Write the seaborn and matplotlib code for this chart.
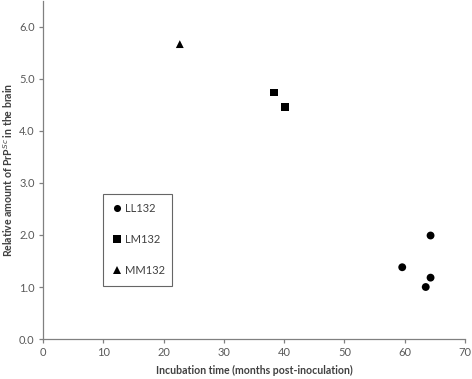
import numpy as np
import pandas as pd
import matplotlib
matplotlib.use('Agg')
import matplotlib.pyplot as plt
import seaborn as sns

# values
groups = ['LL132', 'LL132', 'LL132', 'LL132', 'LM132', 'LM132', 'MM132']
incubation = [64.3, 59.6, 64.3, 63.5, 38.3, 40.2, 22.7]
prpsc = [1.99, 1.38, 1.18, 1.00, 4.74, 4.46, 5.67]

df = pd.DataFrame({'group': groups, 'time': incubation, 'prp': prpsc})

sns.set_style('white')
plt.rcParams['font.family'] = ['Lato', 'DejaVu Sans']

fig = plt.figure(figsize=(4.72, 3.79), dpi=100)
ax = fig.add_axes([0.091, 0.1055, 0.894, 0.892])

sns.scatterplot(data=df, x='time', y='prp', style='group',
                markers={'LL132': 'o', 'LM132': 's', 'MM132': '^'},
                color='black', s=32, edgecolor='black', linewidth=0, ax=ax)

ax.set_xlim(0, 70)
ax.set_ylim(0, 6.5)
ax.set_xticks(np.arange(0, 71, 10))
ax.set_yticks(np.arange(0, 6.1, 1.0))
ax.set_yticklabels(['%.1f' % v for v in np.arange(0, 6.1, 1.0)])

grey = '#808080'
for s in ['top', 'right']:
    ax.spines[s].set_visible(False)
for s in ['left', 'bottom']:
    ax.spines[s].set_color(grey)
    ax.spines[s].set_linewidth(0.9)
ax.tick_params(axis='both', which='major', direction='out', length=3,
               width=0.9, color=grey, labelcolor='#595959', labelsize=8,
               left=True, bottom=True, pad=3)

ax.set_xlabel('Incubation time (months post-inoculation)', fontsize=7.6,
              fontweight='bold', color='#404040', labelpad=5)
ax.set_ylabel('Relative amount of PrP$^{Sc}$ in the brain', fontsize=7.6,
              fontweight='bold', color='#404040')
ax.yaxis.set_label_coords(-0.066, 0.5)

leg = ax.legend(loc='lower left', bbox_to_anchor=(0.142, 0.158, 0.165, 0.277),
                mode='expand', frameon=True, fancybox=False, fontsize=8,
                labelspacing=1.8, handletextpad=0.3, borderpad=0.85,
                handlelength=0.8, borderaxespad=0, markerscale=0.9)
leg.get_frame().set_edgecolor('#404040')
leg.get_frame().set_linewidth(0.8)
for t in leg.get_texts():
    t.set_color('#404040')

fig.savefig('out.png', dpi=100)
